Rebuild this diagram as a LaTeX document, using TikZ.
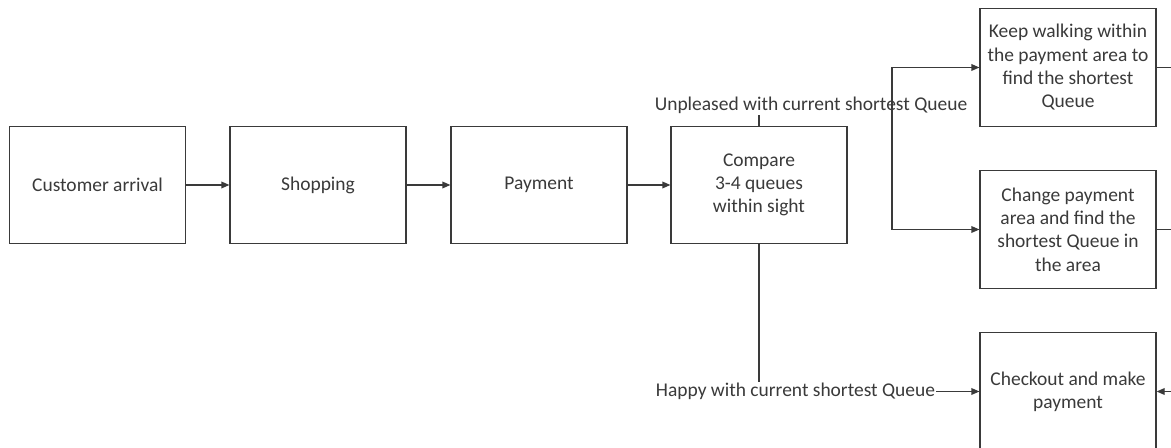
\documentclass[tikz,border=0pt]{standalone}
\usepackage{fontspec}
\setmainfont{Carlito}
\usetikzlibrary{arrows.meta}
\definecolor{ink}{HTML}{3A3A3A}
\begin{document}
\begin{tikzpicture}[x=0.75pt,y=-0.75pt,
  every node/.style={font=\fontsize{14.6pt}{17.5pt}\selectfont, text=ink},
  box/.style={draw=ink, line width=0.9pt, fill=white, minimum width=132pt, minimum height=88pt, align=center, inner sep=2pt},
  conn/.style={draw=ink, line width=0.9pt},
  arr/.style={conn, -{Triangle[length=6pt,width=5pt]}},
  lbl/.style={fill=white, inner xsep=1pt, inner ysep=1pt}]
\useasboundingbox (0,0) rectangle (1171,448);
\clip (0,0) rectangle (1171,448);
\fill[white] (0,0) rectangle (1171,448);

\node[box] (arrival) at (97.5,185) {Customer arrival};
\node[box] (shop) at (318,185) {Shopping};
\node[box] (pay) at (539,185) {Payment};
\node[box] (cmp) at (759,185) {Compare\\3-4 queues\\within sight};
\node[box] (keep) at (1068,67.5) {Keep walking within\\the payment area to\\find the shortest\\Queue};
\node[box] (change) at (1068,229.5) {Change payment\\area and find the\\shortest Queue in\\the area};
\node[box] (checkout) at (1068,391.5) {Checkout and make\\payment};

\coordinate (j) at (892,105);
\coordinate (r1) at (1180,67.5);
\coordinate (r2) at (1180,229.5);
\coordinate (r3) at (1180,391.5);

\draw[arr] (arrival) -- (shop);
\draw[arr] (shop) -- (pay);
\draw[arr] (pay) -- (cmp);

\draw[conn] (cmp.north) |- (j);
\draw[arr] (cmp.south) |- (checkout.west);

\node[lbl] (unpl) at (811,105) {Unpleased with current shortest Queue};
\node[lbl] (happy) at (795.5,391.5) {Happy with current shortest Queue};

\draw[arr] (j) |- (keep.west);
\draw[arr] (j) |- (change.west);

\draw[conn] (keep.east) -- (r1);
\draw[conn] (change.east) -- (r2);
\draw[arr] (r3) -- (checkout.east);
\end{tikzpicture}
\end{document}
